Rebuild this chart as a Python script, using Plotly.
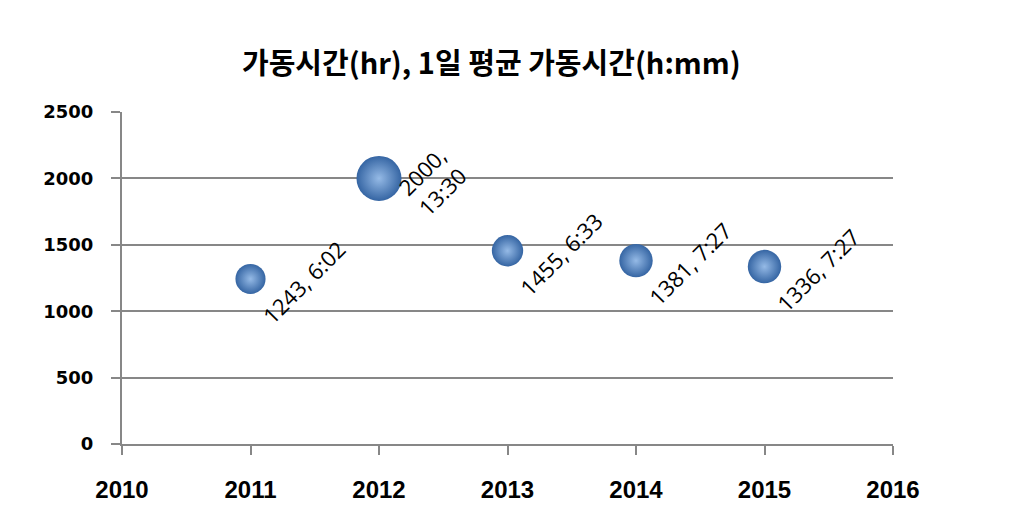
import plotly.graph_objects as go

# Data
years = [2011, 2012, 2013, 2014, 2015]
hours_total = [1243, 2000, 1455, 1381, 1336]
daily_avg_label = ["6:02", "13:30", "6:33", "7:27", "7:27"]
daily_avg_hours = [6 + 2/60, 13 + 30/60, 6 + 33/60, 7 + 27/60, 7 + 27/60]
x_ticks = [2010, 2011, 2012, 2013, 2014, 2015, 2016]
y_ticks = [0, 500, 1000, 1500, 2000, 2500]
title_text = "가동시간(hr), 1일 평균 가동시간(h:mm)"

max_d = 45
sizeref = 2 * max(daily_avg_hours) / (max_d ** 2)

fig = go.Figure()
fig.add_trace(go.Scatter(
    x=years, y=hours_total, mode="markers",
    marker=dict(
        size=daily_avg_hours, sizemode="area", sizeref=sizeref,
        color="#3565a3", opacity=1,
        gradient=dict(type="radial", color="#95bae6"),
        line=dict(width=0),
    ),
    hoverinfo="skip", showlegend=False,
))

labels = []
for y, v, t in zip(years, hours_total, daily_avg_label):
    txt = f"{v},<br>{t}" if len(t) > 4 else f"{v}, {t}"
    labels.append(dict(
        x=y, y=v, xref="x", yref="y", text=txt, showarrow=False,
        textangle=-45, xshift=53, yshift=-3,
        font=dict(family="Open Sans, Noto Sans, sans-serif", size=22, color="#000000"),
    ))

fig.update_layout(
    width=1011, height=528,
    margin=dict(l=122, r=118, t=112, b=84),
    paper_bgcolor="white", plot_bgcolor="white",
    showlegend=False,
    annotations=labels,
    title=dict(
        text=title_text, x=0.486, xanchor="center", y=1 - 64/528, yanchor="middle",
        yref="container",
        font=dict(family="Noto Sans CJK KR", size=29, color="#000000", weight="bold"),
    ),
)

fig.update_xaxes(
    range=[2010, 2016], tickvals=x_ticks, ticktext=[str(v) for v in x_ticks],
    showgrid=False, zeroline=False,
    showline=True, linecolor="#878787", linewidth=2,
    ticks="outside", ticklen=9, tickwidth=2, tickcolor="#878787",
    tickfont=dict(family="Liberation Sans Narrow, Arial Narrow, Liberation Sans, sans-serif",
                  size=24, color="#000000", weight="bold"),
    ticklabelstandoff=14,
)
fig.update_yaxes(
    range=[0, 2500], tickvals=y_ticks,
    showgrid=True, gridcolor="#878787", gridwidth=2, zeroline=False,
    showline=True, linecolor="#878787", linewidth=2,
    ticks="outside", ticklen=9, tickwidth=2, tickcolor="#878787",
    tickfont=dict(family="DejaVu Sans, sans-serif", size=18, color="#000000", weight="bold"),
    ticklabelstandoff=14,
)

fig.write_html("out.html")
